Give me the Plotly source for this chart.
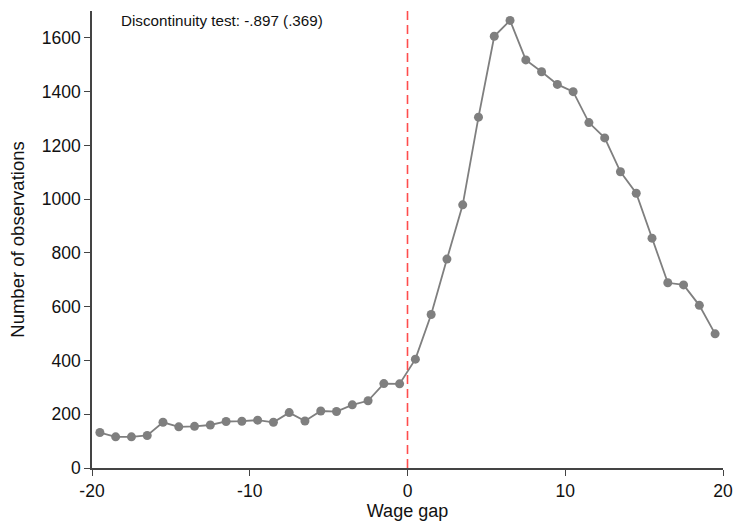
import plotly.graph_objects as go

bin_centers = [-19.5, -18.5, -17.5, -16.5, -15.5, -14.5, -13.5, -12.5, -11.5, -10.5,
               -9.5, -8.5, -7.5, -6.5, -5.5, -4.5, -3.5, -2.5, -1.5, -0.5,
               0.5, 1.5, 2.5, 3.5, 4.5, 5.5, 6.5, 7.5, 8.5, 9.5,
               10.5, 11.5, 12.5, 13.5, 14.5, 15.5, 16.5, 17.5, 18.5, 19.5]
counts = [132, 116, 116, 121, 170, 153, 155, 160, 173, 174,
          178, 170, 206, 175, 212, 210, 235, 250, 314, 313,
          405, 571, 777, 979, 1305, 1606, 1665, 1518, 1474, 1427,
          1400, 1285, 1228, 1102, 1022, 855, 689, 681, 605, 499]

x_ticks = [-20, -10, 0, 10, 20]
y_ticks = [0, 200, 400, 600, 800, 1000, 1200, 1400, 1600]
annotation_text = "Discontinuity test: -.897 (.369)"
cutoff = 0

FONT = "Liberation Sans, Arial"

fig = go.Figure()
fig.add_trace(go.Scatter(
    x=bin_centers, y=counts, mode="lines+markers",
    line=dict(color="#7f7f7f", width=1.8),
    marker=dict(color="#7f7f7f", size=9),
    showlegend=False,
))
fig.add_shape(type="line", x0=cutoff, x1=cutoff, y0=0, y1=1700, xref="x", yref="y",
              line=dict(color="#ff4d4d", width=1.6, dash="9px,5px"), layer="above")
fig.add_annotation(text=annotation_text, x=-18.3, y=1665, xref="x", yref="y",
                   xanchor="left", yanchor="middle", showarrow=False,
                   font=dict(size=15.2, color="#111111", family=FONT))

axis_common = dict(showgrid=False, zeroline=False, showline=True, linecolor="#444444",
                   linewidth=1.5, ticks="outside", ticklen=6, tickwidth=1.3, tickcolor="#444444",
                   automargin=False,
                   tickfont=dict(size=17.5, color="#111111", family=FONT))
fig.update_xaxes(range=[-20, 20], tickvals=x_ticks, ticktext=[str(v) for v in x_ticks],
                 title=dict(text="Wage gap", font=dict(size=18, color="#111111", family=FONT), standoff=5),
                 **axis_common)
fig.update_yaxes(range=[0, 1700], tickvals=y_ticks, ticktext=[str(v) for v in y_ticks],
                 title=dict(text="Number of observations", font=dict(size=18.5, color="#111111", family=FONT), standoff=12),
                 **axis_common)
fig.update_layout(
    width=735, height=521,
    margin=dict(l=92, r=12, t=11, b=53),
    plot_bgcolor="white", paper_bgcolor="white",
    font=dict(family=FONT),
)
fig.write_html("out.html")
